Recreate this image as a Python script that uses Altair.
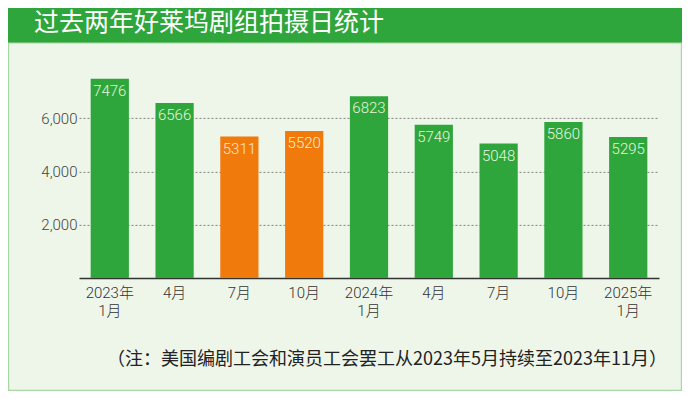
import altair as alt
import pandas as pd

# ---- data ----
periods = ["2023年1月", "2023年4月", "2023年7月", "2023年10月",
           "2024年1月", "2024年4月", "2024年7月", "2024年10月", "2025年1月"]
shooting_days = [7476, 6566, 5311, 5520, 6823, 5749, 5048, 5860, 5295]
strike_periods = ["2023年7月", "2023年10月"]
y_ticks = [2000, 4000, 6000]
title_text = "过去两年好莱坞剧组拍摄日统计"
note_text = "（注：美国编剧工会和演员工会罢工从2023年5月持续至2023年11月）"

df = pd.DataFrame({
    "period": periods,
    "days": shooting_days,
    "strike": [p in strike_periods for p in periods],
})

GREEN = "#2ea63c"
ORANGE = "#f07a0c"
BG = "#eef6ea"
BORDER = "#a9d8a6"
FONT = "Roboto, Noto Sans CJK SC, sans-serif"
CJK = "Noto Sans CJK SC, sans-serif"

W, H = 580, 213.1
PAD_L, PAD_T = 71, 56.9
SVG_W, SVG_H = 674, 383

one = pd.DataFrame({"k": [0]})

band = alt.Chart(one).mark_rect(color=GREEN).encode(
    x=alt.value(-PAD_L), x2=alt.value(SVG_W - PAD_L),
    y=alt.value(-PAD_T), y2=alt.value(43 - 8 - PAD_T),
)

frame = alt.Chart(one).mark_rect(fill=BG, fillOpacity=0, stroke=BORDER, strokeWidth=1.2).encode(
    x=alt.value(-PAD_L + 0.6), x2=alt.value(SVG_W - PAD_L - 0.6),
    y=alt.value(43 - 8 - PAD_T), y2=alt.value(SVG_H - PAD_T - 0.6),
)

x_enc = alt.X(
    "period:N", sort=periods, title=None,
    scale=alt.Scale(paddingInner=0.41, paddingOuter=0.18),
    axis=alt.Axis(
        labelAngle=0, ticks=False, domainColor="#333333", domainWidth=1.5,
        labelFont=FONT, labelFontSize=15, labelFontWeight=300, labelColor="#333333",
        labelPadding=7, labelLineHeight=18,
        labelExpr="indexof(datum.value, '年1月') > 0 ? [substring(datum.value, 0, 5), substring(datum.value, 5)] : substring(datum.value, 5)",
    ),
)
y_enc = alt.Y(
    "days:Q", title=None,
    scale=alt.Scale(domain=[0, 8000], nice=False),
    axis=alt.Axis(
        values=y_ticks, format=",.0f", ticks=False, domain=False,
        grid=True, gridColor="#666666", gridDash=[2, 2], gridWidth=0.8,
        labelFont=FONT, labelFontSize=15, labelFontWeight=300, labelColor="#444444",
        labelPadding=2,
    ),
)

bars = alt.Chart(df).mark_bar().encode(
    x=x_enc, y=y_enc,
    color=alt.condition(alt.datum.strike, alt.value(ORANGE), alt.value(GREEN)),
)

labels = alt.Chart(df).mark_text(
    baseline="top", dy=5, font=FONT, fontSize=15, fontWeight=300,
).encode(
    x=alt.X("period:N", sort=periods),
    y="days:Q",
    text="days:Q",
    color=alt.condition(alt.datum.strike, alt.value("#ffe9d2"), alt.value("#e6f6de")),
)

title = alt.Chart(one).mark_text(
    align="left", baseline="middle", font=CJK, fontSize=25, color="white",
).encode(
    x=alt.value(34 - 8 - PAD_L), y=alt.value(23 - 8 - PAD_T), text=alt.value(title_text),
)

note = alt.Chart(one).mark_text(
    align="center", baseline="middle", font=CJK, fontSize=18, color="#222222",
).encode(
    x=alt.value(387 - 8 - PAD_L), y=alt.value(360 - 8 - PAD_T), text=alt.value(note_text),
)

chart = alt.layer(band, frame, bars, labels, title, note).properties(
    width=W, height=H,
    autosize=alt.AutoSizeParams(type="none"),
    padding={"left": PAD_L, "top": PAD_T, "right": SVG_W - PAD_L - W, "bottom": SVG_H - PAD_T - H},
    background=BG,
).configure_view(stroke=None)

chart.save("out.html", embed_options={"renderer": "svg", "actions": False})
